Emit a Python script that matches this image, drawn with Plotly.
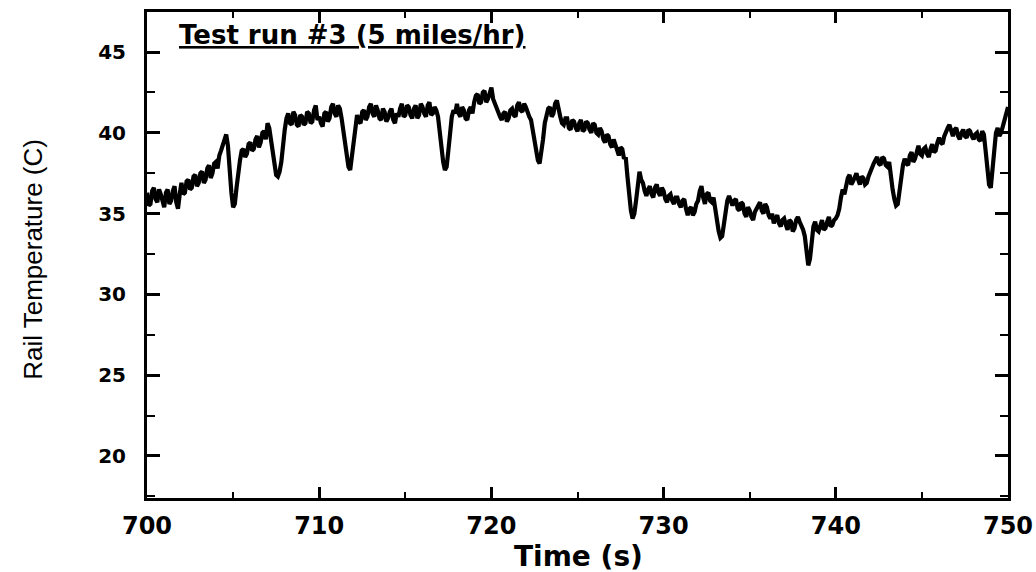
import plotly.graph_objects as go

# Rail temperature (C) at 700.0, 700.2, ... 750.0 s
temp_even = [
    36.3, 35.6, 36.6, 35.7, 36.2, 35.4, 36.5, 35.8, 36.7, 35.3,
    36.9, 36.3, 37.1, 36.6, 37.4, 36.9, 37.6, 37.1, 38.0, 37.5,
    38.2, 38.6, 39.3, 39.9, 37.6, 35.4, 36.6, 38.3, 39.0, 38.7,
    39.4, 39.0, 39.8, 39.4, 40.1, 40.6, 39.6, 37.9, 37.3, 38.2,
    40.2, 41.2, 40.5, 41.1, 40.4, 41.0, 40.6, 41.2, 40.7, 41.7,
    41.0, 40.4, 41.3, 40.9, 41.8, 41.0, 41.5, 40.2, 38.4, 37.7,
    39.8, 41.1, 40.6, 41.4, 41.0, 41.8, 41.0, 41.4, 40.8, 41.3,
    40.9, 41.5, 40.6, 41.0, 41.8, 41.1, 41.6, 40.9, 41.7, 41.1,
    41.6, 41.0, 41.9, 41.2, 41.4, 40.0, 38.2, 37.9, 40.1, 41.4,
    41.8, 41.0, 41.4, 40.8, 41.6, 41.9, 42.4, 41.9, 42.6, 42.1,
    42.8, 41.8, 41.3, 40.8, 41.3, 40.9, 41.5, 41.0, 41.9, 41.3,
    41.6, 41.0, 40.2, 38.8, 38.1, 39.6, 41.2, 41.6, 41.2, 42.0,
    41.0, 40.5, 40.9, 40.2, 40.7, 40.1, 40.8, 40.2, 40.6, 40.0,
    40.5, 39.9, 40.1, 39.4, 39.8, 39.1, 39.3, 38.6, 39.0, 38.5,
    36.2, 34.7, 35.8, 37.6, 36.9, 36.1, 36.7, 36.0, 36.8, 36.1,
    36.4, 35.7, 36.2, 35.6, 36.0, 35.4, 35.9, 34.9, 35.4, 35.1,
    35.8, 36.7, 35.6, 36.3, 35.7, 35.1, 33.9, 33.6, 35.3, 36.1,
    35.5, 35.9, 35.2, 35.6, 34.8, 35.2, 34.6, 35.3, 35.7, 35.0,
    35.4, 34.7, 34.4, 34.9, 34.2, 34.7, 34.0, 34.5, 34.1, 34.8,
    34.3, 33.6, 31.8, 33.3, 34.5, 33.9, 34.6, 34.1, 34.8, 34.3,
    34.7, 35.3, 36.5, 36.9, 37.4, 37.0, 37.5, 36.8, 37.2, 36.9,
    37.6, 38.1, 38.5, 38.0, 38.4, 37.9, 37.2, 35.9, 35.6, 37.5,
    38.4, 38.0, 38.8, 38.4, 39.2, 38.6, 39.1, 38.5, 39.3, 38.9,
    39.7, 39.3, 40.1, 40.5, 39.8, 40.3, 39.6, 40.2, 39.7, 40.1,
    39.6, 40.0, 39.5, 39.9, 37.6, 36.6, 39.2, 40.3, 40.0, 40.7,
    41.6,
]

# Rail temperature (C) at 700.1, 700.3, ... 749.9 s
temp_odd = [
    35.5, 36.4, 35.9, 36.5, 35.8, 36.3, 35.6, 36.4, 35.7, 36.2,
    36.2, 37.0, 36.5, 37.3, 36.7, 37.5, 36.9, 37.8, 37.2, 38.1,
    37.8, 38.9, 39.6, 39.2, 36.3, 35.6, 37.6, 38.9, 38.5, 39.3,
    38.9, 39.6, 39.1, 40.0, 39.6, 40.3, 38.8, 37.4, 37.6, 39.4,
    40.9, 40.6, 41.3, 40.5, 41.1, 40.5, 41.3, 40.6, 41.4, 40.8,
    40.6, 41.2, 40.7, 41.6, 41.2, 41.7, 40.9, 39.2, 37.9, 38.6,
    40.6, 40.7, 41.3, 40.8, 41.6, 41.2, 41.7, 40.9, 41.5, 40.7,
    41.3, 40.8, 41.2, 41.5, 41.0, 41.7, 41.1, 41.5, 40.9, 41.8,
    41.2, 41.7, 41.1, 41.6, 41.0, 39.0, 37.7, 38.9, 41.0, 41.2,
    41.2, 41.6, 40.9, 41.4, 41.2, 42.3, 41.8, 42.5, 41.9, 42.5,
    42.1, 41.5, 41.0, 41.2, 40.7, 41.4, 41.1, 41.7, 41.4, 41.8,
    41.2, 40.8, 39.5, 38.3, 38.7, 40.6, 41.5, 41.0, 41.8, 41.4,
    40.6, 40.9, 40.3, 40.8, 40.3, 40.6, 40.1, 40.7, 40.2, 40.6,
    40.0, 40.3, 39.6, 39.9, 39.3, 39.6, 38.9, 39.1, 38.4, 37.3,
    35.2, 35.0, 36.9, 37.1, 36.4, 36.5, 36.2, 36.6, 36.3, 36.6,
    35.9, 36.1, 35.8, 36.0, 35.6, 35.8, 35.3, 35.3, 34.9, 35.6,
    36.4, 36.0, 36.2, 35.8, 36.0, 34.6, 33.5, 34.4, 35.8, 35.7,
    35.8, 35.3, 35.7, 35.0, 35.4, 34.8, 35.1, 35.5, 35.2, 35.6,
    34.9, 35.0, 34.7, 34.4, 34.6, 34.3, 34.6, 33.9, 34.6, 34.5,
    34.0, 32.6, 32.2, 34.2, 34.0, 34.4, 34.0, 34.5, 34.2, 34.6,
    34.9, 36.0, 36.2, 37.2, 36.8, 37.3, 37.1, 37.3, 36.8, 37.3,
    37.9, 38.3, 38.1, 38.5, 38.0, 38.2, 36.5, 35.5, 36.6, 38.0,
    38.1, 38.6, 38.2, 38.9, 38.7, 39.0, 38.7, 39.0, 38.8, 39.4,
    39.4, 39.8, 40.3, 40.0, 40.2, 39.8, 40.0, 39.8, 40.2, 39.8,
    39.9, 39.6, 40.1, 38.9, 36.8, 37.8, 40.0, 39.8, 40.4, 41.0,
]

# Time samples (s), 0.1 s apart
time_s = [round(700 + 0.1 * i, 1) for i in range(2 * len(temp_odd) + 1)]
temp_c = []
for a, b in zip(temp_even[:-1], temp_odd):
    temp_c += [a, b]
temp_c.append(temp_even[-1])

x_ticks = [700, 710, 720, 730, 740, 750]
y_ticks = [20, 25, 30, 35, 40, 45]

title_text = "Test run #3 (5 miles/hr)"
x_title = "Time (s)"
y_title = "Rail Temperature (C)"

BOLD = "DejaVu Sans"

fig = go.Figure()
fig.add_trace(go.Scatter(
    x=time_s, y=temp_c, mode="lines",
    line=dict(color="black", width=4.2),
    showlegend=False, hoverinfo="skip",
))

fig.update_layout(
    template="none",
    width=1036, height=572,
    margin=dict(l=147, r=28, t=12, b=74, autoexpand=False),
    paper_bgcolor="white", plot_bgcolor="white",
    xaxis=dict(
        range=[700, 750], tickvals=x_ticks, ticktext=[str(v) for v in x_ticks],
        showgrid=False, zeroline=False, automargin=False,
        showline=True, linecolor="black", linewidth=3, mirror="allticks",
        ticks="inside", ticklen=11, tickwidth=2.5, tickcolor="black",
        minor=dict(dtick=5, ticks="inside", ticklen=6, tickwidth=2, tickcolor="black", showgrid=False),
        tickfont=dict(family=BOLD, size=24, color="black", weight="bold"),
        ticklabelstandoff=4,
    ),
    yaxis=dict(
        range=[17.4, 47.48], tickvals=y_ticks, ticktext=[str(v) for v in y_ticks],
        showgrid=False, zeroline=False, automargin=False,
        showline=True, linecolor="black", linewidth=3, mirror="allticks",
        ticks="inside", ticklen=13, tickwidth=2.5, tickcolor="black",
        minor=dict(dtick=2.5, ticks="inside", ticklen=8, tickwidth=2, tickcolor="black", showgrid=False),
        tickfont=dict(family=BOLD, size=20, color="black", weight="bold"),
        ticklabelstandoff=14,
    ),
)

fig.add_annotation(
    text="<u>" + title_text + "</u>", xref="paper", yref="paper",
    x=0.0348, y=0.9527, xanchor="left", yanchor="middle", showarrow=False,
    font=dict(family=BOLD, size=26, color="black", weight="bold"),
)
fig.add_annotation(
    text=x_title, xref="paper", yref="paper",
    x=0.5006, y=-0.121, xanchor="center", yanchor="middle", showarrow=False,
    font=dict(family=BOLD, size=28, color="black", weight="bold"),
)
fig.add_annotation(
    text=y_title, xref="paper", yref="paper", textangle=-90,
    x=(33 - 147) / 861, y=0.49, xanchor="center", yanchor="middle", showarrow=False,
    font=dict(family="Liberation Sans, Arial", size=26, color="black"),
)

fig.write_html("out.html")
